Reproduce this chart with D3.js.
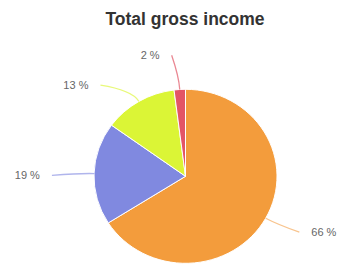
<!DOCTYPE html>
<html>
<head>
<meta charset="utf-8">
<script src="https://cdn.jsdelivr.net/npm/d3@7"></script>
<style>
  body { margin: 0; background: white; }
</style>
</head>
<body>
<div class="chart"></div>
<script>
// slices in drawing order, clockwise from 12 o'clock
let categories = ["A", "B", "C", "D"];
let values = [66, 19, 13, 2];
let labels = ["66 %", "19 %", "13 %", "2 %"];
let sliceColors = ["#f39c3c", "#8089e0", "#dbf536", "#e35566"];
let lineColors = ["#f8c48e", "#b0b5ec", "#e8f97a", "#ea8893"];
// small angular push of the connectors (deg), keeps labels apart
let labelShift = [-1.5, -1.4, -11, -2.6];

let W = 347, H = 265;
let cx = 185.5, cy = 176.3;
let rx = 91.5, ry = 87;

let svg = d3
    .select(".chart")
    .append("svg")
    .attr("width", W)
    .attr("height", H)
    .style("background-color", "white");

svg.append("text")
    .attr("x", 185)
    .attr("y", 25)
    .attr("text-anchor", "middle")
    .style("font-family", "Liberation Sans, Arial, sans-serif")
    .style("font-weight", "bold")
    .style("font-size", "17.5px")
    .style("fill", "#333")
    .text("Total gross income");

let pie = d3.pie().sort(null).value(function (d) { return d; });
let arcs = pie(values);

let arc = d3.arc().innerRadius(0).outerRadius(rx);

let g = svg.append("g")
    .attr("transform", "translate(" + cx + "," + cy + ") scale(1," + (ry / rx) + ")");

g.selectAll("path")
    .data(arcs)
    .enter()
    .append("path")
    .attr("d", arc)
    .attr("fill", function (d, i) { return sliceColors[i]; })
    .attr("stroke", "white")
    .attr("stroke-width", 1);

// point on ellipse for angle a (rad, clockwise from up) at factor k
function pt(a, k) {
    return [cx + Math.sin(a) * rx * k, cy - Math.cos(a) * ry * k];
}

let lab = svg.append("g");

arcs.forEach(function (d, i) {
    let mid = (d.startAngle + d.endAngle) / 2;
    let outA = mid + labelShift[i] * Math.PI / 180;
    let p0 = pt(mid, 1.0);
    let p2 = pt(outA, i == 1 ? 1.46 : 1.4);
    let p1 = pt(mid, 1.15);
    lab.append("path")
        .attr("d", "M" + p0 + "Q" + p1 + " " + p2)
        .attr("fill", "none")
        .attr("stroke", lineColors[i])
        .attr("stroke-width", 1.3);
    let right = Math.sin(outA) > 0;
    lab.append("text")
        .attr("x", p2[0] + (right ? 12 : -12))
        .attr("y", p2[1])
        .attr("dy", "0.35em")
        .attr("text-anchor", right ? "start" : "end")
        .style("font-family", "Liberation Sans, Arial, sans-serif")
        .style("font-size", "11px")
        .style("fill", "#666")
        .text(labels[i]);
});
</script>
</body>
</html>
